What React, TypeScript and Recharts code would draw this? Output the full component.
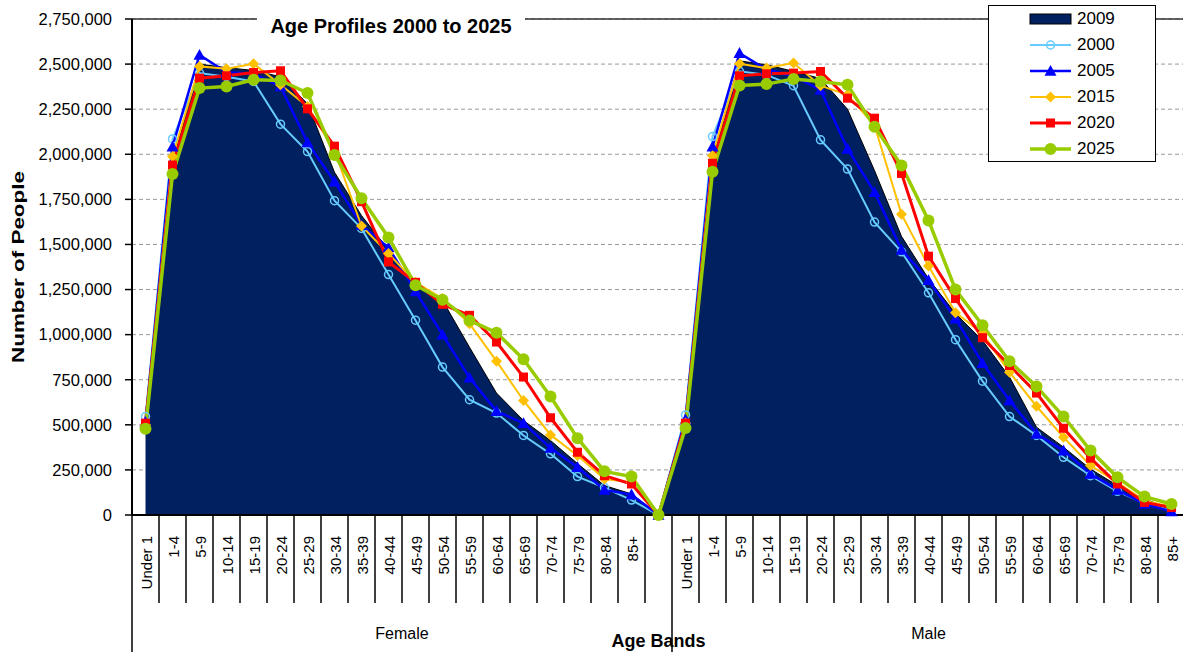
import React from 'react';
import { ComposedChart, Area, Line, XAxis, YAxis, CartesianGrid, ReferenceLine } from 'recharts';

// age bands repeat for each sex, with one empty slot between the two groups
const ageBands = ['Under 1', '1-4', '5-9', '10-14', '15-19', '20-24', '25-29', '30-34', '35-39', '40-44',
    '45-49', '50-54', '55-59', '60-64', '65-69', '70-74', '75-79', '80-84', '85+'];
const groups = ['Female', 'Male'];
const yTicks = [0, 250000, 500000, 750000, 1000000, 1250000, 1500000, 1750000, 2000000, 2250000, 2500000, 2750000];

const female2009 = [510000, 1950000, 2500000, 2480000, 2465000, 2430000, 2280000, 1900000, 1660000, 1470000, 1270000, 1190000, 930000, 676000, 524000, 413000, 285000, 163000, 117000];
const female2000 = [546000, 2085000, 2450000, 2430000, 2404000, 2167000, 2015000, 1743000, 1589000, 1333000, 1080000, 820000, 639000, 565000, 441000, 339000, 213000, 152000, 83000];
const female2005 = [515000, 2042000, 2551000, 2455000, 2446000, 2376000, 2065000, 1848000, 1607000, 1483000, 1240000, 1000000, 761000, 576000, 509000, 372000, 265000, 139000, 113000];
const female2015 = [500000, 1987000, 2487000, 2474000, 2502000, 2385000, 2265000, 2020000, 1602000, 1450000, 1290000, 1200000, 1061000, 853000, 635000, 444000, 330000, 200000, 181000];
const female2020 = [509000, 1940000, 2422000, 2435000, 2453000, 2463000, 2252000, 2045000, 1737000, 1403000, 1290000, 1168000, 1107000, 959000, 765000, 539000, 348000, 218000, 172000];
const female2025 = [478000, 1890000, 2367000, 2376000, 2413000, 2409000, 2340000, 1996000, 1756000, 1539000, 1274000, 1194000, 1079000, 1011000, 863000, 657000, 426000, 242000, 213000];

const male2009 = [520000, 1980000, 2518000, 2496000, 2460000, 2420000, 2250000, 1910000, 1545000, 1310000, 1117000, 968000, 765000, 487000, 376000, 255000, 163000, 89000, 33000];
const male2000 = [555000, 2098000, 2460000, 2440000, 2380000, 2080000, 1918000, 1624000, 1459000, 1232000, 972000, 742000, 546000, 441000, 320000, 218000, 131000, 64000, 28000];
const male2005 = [530000, 2042000, 2561000, 2470000, 2433000, 2357000, 2030000, 1790000, 1470000, 1302000, 1089000, 842000, 635000, 450000, 357000, 228000, 139000, 61000, 20000];
const male2015 = [510000, 1992000, 2502000, 2478000, 2506000, 2380000, 2330000, 2160000, 1668000, 1380000, 1122000, 1006000, 792000, 603000, 431000, 274000, 181000, 79000, 46000];
const male2020 = [509000, 1950000, 2435000, 2446000, 2450000, 2459000, 2311000, 2200000, 1894000, 1435000, 1200000, 983000, 829000, 676000, 481000, 315000, 172000, 70000, 42000];
const male2025 = [483000, 1903000, 2381000, 2389000, 2417000, 2404000, 2385000, 2153000, 1938000, 1633000, 1250000, 1052000, 852000, 713000, 546000, 357000, 209000, 102000, 61000];

const categories = [...ageBands, '', ...ageBands];
const join = (f: number[], m: number[]) => [...f, 0, ...m];

const values: Record<string, number[]> = {
    y2009: join(female2009, male2009),
    y2000: join(female2000, male2000),
    y2005: join(female2005, male2005),
    y2015: join(female2015, male2015),
    y2020: join(female2020, male2020),
    y2025: join(female2025, male2025),
};

const data = categories.map((label, i) => {
    const row: any = { x: i, label };
    Object.keys(values).forEach(k => row[k] = values[k][i]);
    return row;
});

interface LineSeries {
    key: string;
    name: string;
    color: string;
    width: number;
    shape: string;
    size: number;
}

const lines: LineSeries[] = [
    { key: 'y2000', name: '2000', color: '#66CCFF', width: 2, shape: 'ring', size: 4 },
    { key: 'y2005', name: '2005', color: '#0000FF', width: 2.5, shape: 'triangle', size: 6 },
    { key: 'y2015', name: '2015', color: '#FFC000', width: 2, shape: 'diamond', size: 5.5 },
    { key: 'y2020', name: '2020', color: '#FF0000', width: 3, shape: 'square', size: 4.5 },
    { key: 'y2025', name: '2025', color: '#99CC00', width: 3.5, shape: 'circle', size: 6 },
];
const AREA_COLOR = '#002060';

const W = 1190;
const H = 652;
const TOP = 19;
const LEFT = 132;
const RIGHT = 5;
const X_AXIS_H = 137;
const PLOT_BOTTOM = H - X_AXIS_H;
const CELL = (W - LEFT - RIGHT) / categories.length;
const FONT = '"Liberation Sans", Arial, sans-serif';

function Marker({ cx, cy, shape, color, size }: any) {
    if (cx == null || cy == null) return <g />;
    const s = size;
    switch (shape) {
        case 'ring':
            return <circle cx={cx} cy={cy} r={s} fill="none" stroke={color} strokeWidth={1.5} />;
        case 'triangle':
            return <path d={`M${cx},${cy - s} L${cx + s},${cy + s * 0.8} L${cx - s},${cy + s * 0.8} Z`} fill={color} />;
        case 'diamond':
            return <path d={`M${cx},${cy - s} L${cx + s},${cy} L${cx},${cy + s} L${cx - s},${cy} Z`} fill={color} />;
        case 'square':
            return <rect x={cx - s} y={cy - s} width={s * 2} height={s * 2} fill={color} />;
        default:
            return <circle cx={cx} cy={cy} r={s} fill={color} />;
    }
}

function CatTick(props: any) {
    const { x, payload } = props;
    const i = payload.value;
    const half = CELL / 2;
    const label = categories[i];
    const groupStart = i === 0 || i === ageBands.length + 1;
    return <g>
        <line x1={x - half} x2={x - half} y1={PLOT_BOTTOM} y2={groupStart ? H : PLOT_BOTTOM + 88} stroke="#000" strokeWidth={1.5} />
        {label && <text transform={`translate(${x + 6},${PLOT_BOTTOM + 21}) rotate(-90)`} textAnchor="end"
            fontSize={15} fill="#000" fontFamily={FONT}>{label}</text>}
        {i === 9 && <text x={x + half} y={PLOT_BOTTOM + 124} textAnchor="middle" fontSize={16} fill="#000" fontFamily={FONT}>{groups[0]}</text>}
        {i === 29 && <text x={x} y={PLOT_BOTTOM + 124} textAnchor="middle" fontSize={16} fill="#000" fontFamily={FONT}>{groups[1]}</text>}
    </g>;
}

function LegendBox() {
    const row = (name: string, sample: React.ReactNode) =>
        <div key={name} style={{ position: 'relative', height: 26 }}>
            <svg width={84} height={26} style={{ position: 'absolute', left: 0, top: 0 }}>{sample}</svg>
            <span style={{ position: 'absolute', left: 88, top: 0, lineHeight: '26px', fontSize: 17 }}>{name}</span>
        </div>;
    return <div style={{ position: 'absolute', left: 988, top: 5, width: 166, height: 155, border: '1px solid #000', background: '#fff', fontFamily: FONT }}>
        {row('2009', <rect x={41} y={8} width={41} height={10} fill={AREA_COLOR} stroke="#000" />)}
        {lines.map(s => row(s.name, <g>
            <line x1={41} x2={82} y1={13} y2={13} stroke={s.color} strokeWidth={s.width} />
            <Marker cx={61.5} cy={13} shape={s.shape} color={s.color} size={s.size} />
        </g>))}
    </div>;
}

export default function App() {
    return <div style={{ position: 'absolute', left: 0, top: 0, width: 1183, height: H, overflow: 'hidden', background: '#fff', fontFamily: FONT }}>
        <ComposedChart width={W} height={H} data={data} margin={{ top: TOP, right: RIGHT, left: 0, bottom: 0 }}>
            <CartesianGrid vertical={false} stroke="#999" strokeDasharray="4 3" />
            <ReferenceLine y={2750000} stroke="#333" strokeWidth={1.5} />
            <XAxis dataKey="x" type="number" domain={[-0.5, categories.length - 0.5]} ticks={data.map(d => d.x)}
                interval={0} height={X_AXIS_H} tickLine={false} axisLine={{ stroke: '#000', strokeWidth: 2 }}
                tick={(p: any) => <CatTick {...p} />} allowDataOverflow
                label={(p: any) => <text x={p.viewBox.x + p.viewBox.width / 2} y={p.viewBox.y + p.viewBox.height - 5}
                    textAnchor="middle" fontSize={18} fontWeight="bold" fill="#000" fontFamily={FONT}>Age Bands</text>} />
            <YAxis type="number" domain={[0, 2750000]} ticks={yTicks} width={LEFT} interval={0}
                tickFormatter={(v: number) => v.toLocaleString('en-US')} tickSize={7} tickMargin={13}
                tick={{ fill: '#000', fontSize: 16.5, fontFamily: FONT }}
                tickLine={{ stroke: '#000', strokeWidth: 1.5 }} axisLine={{ stroke: '#000', strokeWidth: 2 }}
                label={(p: any) => <text transform={`translate(${p.viewBox.x + 24},${p.viewBox.y + p.viewBox.height / 2}) rotate(-90)`}
                    textAnchor="middle" fontSize={17} fontWeight="bold" fill="#000" fontFamily={FONT}
                    textLength={192} lengthAdjust="spacingAndGlyphs">Number of People</text>} />
            <Area dataKey="y2009" name="2009" type="linear" fill={AREA_COLOR} fillOpacity={1} stroke="#000" strokeWidth={1}
                isAnimationActive={false} dot={false} activeDot={false} />
            {lines.map(s => <Line key={s.key} dataKey={s.key} name={s.name} type="linear" stroke={s.color} strokeWidth={s.width}
                isAnimationActive={false} activeDot={false}
                dot={(p: any) => <Marker key={`${s.key}-${p.index}`} cx={p.cx} cy={p.cy} shape={s.shape} color={s.color} size={s.size} />} />)}
        </ComposedChart>
        <div style={{ position: 'absolute', left: 257, top: 15, width: 268, height: 22, lineHeight: '22px', background: '#fff',
            textAlign: 'center', fontWeight: 'bold', fontSize: 20, fontFamily: FONT }}>Age Profiles 2000 to 2025</div>
        <LegendBox />
    </div>;
}
